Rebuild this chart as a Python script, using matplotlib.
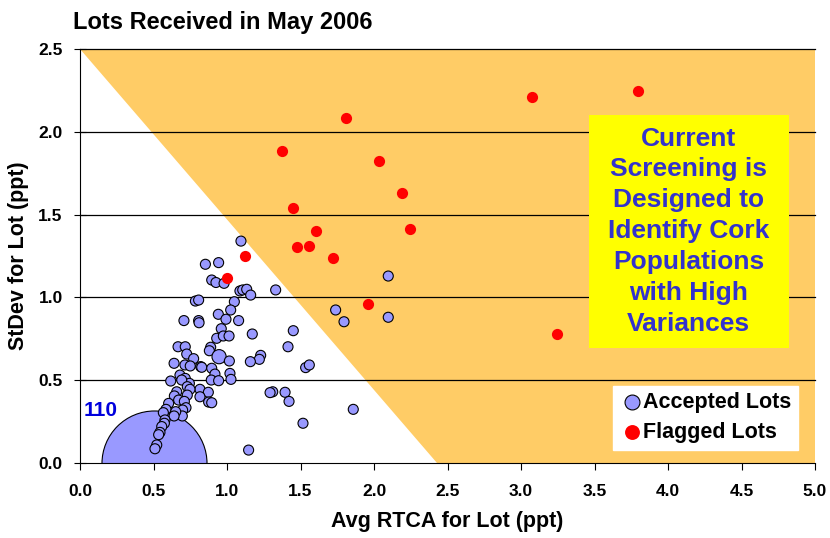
import numpy as np
import matplotlib
matplotlib.use('Agg')
from matplotlib import pyplot as plt
from matplotlib.patches import Rectangle

plt.rcParams['font.family'] = ['Liberation Sans', 'DejaVu Sans']

# accepted lots (avg RTCA, stdev), lots per bubble
acc_x = [1.095, 0.853, 0.943, 0.896, 0.925, 0.98, 1.088, 1.107, 1.134, 1.161,
         1.331, 0.785, 0.807, 1.05, 1.025, 0.941, 0.993, 1.079, 0.707, 0.807,
         0.81, 0.961, 0.93, 0.975, 1.014, 1.172, 0.667, 0.716, 0.889, 0.88,
         0.946, 0.726, 0.773, 0.64, 0.714, 0.75, 1.016, 0.821, 0.828, 0.896,
         1.229, 1.22, 1.159, 0.68, 0.716, 0.744, 0.692, 0.617, 0.918, 0.893,
         0.943, 1.02, 1.027, 0.816, 0.873, 0.816, 0.875, 0.896, 0.73, 0.748,
         0.73, 0.658, 0.642, 0.671, 0.71, 0.721, 0.603, 0.585, 0.567, 0.698,
         0.696, 0.651, 0.64, 0.578, 0.574, 0.556, 0.544, 0.535, 0.522, 0.51,
         1.311, 1.293, 1.147, 1.739, 1.796, 2.097, 2.097, 1.451, 1.415, 1.535,
         1.56, 1.395, 1.422, 1.859, 1.517]
acc_y = [1.34, 1.20, 1.21, 1.105, 1.09, 1.085, 1.039, 1.045, 1.049, 1.014,
         1.045, 0.978, 0.984, 0.974, 0.924, 0.898, 0.868, 0.86, 0.86, 0.86,
         0.847, 0.811, 0.753, 0.767, 0.767, 0.779, 0.702, 0.702, 0.699, 0.678,
         0.642, 0.658, 0.63, 0.602, 0.592, 0.586, 0.616, 0.582, 0.578, 0.572,
         0.65, 0.626, 0.612, 0.531, 0.511, 0.481, 0.501, 0.495, 0.537, 0.501,
         0.497, 0.541, 0.505, 0.445, 0.427, 0.40, 0.368, 0.364, 0.461, 0.445,
         0.41, 0.43, 0.405, 0.38, 0.372, 0.334, 0.36, 0.324, 0.304, 0.32,
         0.284, 0.31, 0.284, 0.26, 0.24, 0.22, 0.185, 0.171, 0.109, 0.086,
         0.43, 0.425, 0.078, 0.924, 0.853, 0.88, 1.129, 0.799, 0.702, 0.576,
         0.592, 0.427, 0.372, 0.324, 0.24]
acc_n = [1] * len(acc_x)
acc_n[30] = 2

# the 110 lots with zero variance
big_x, big_y, big_n = 0.5, 0.0, 110

# flagged lots
flag_x = [1.81, 1.376, 2.034, 2.19, 1.447, 2.243, 1.605, 1.474, 1.56, 1.721,
          1.12, 1.0, 1.961, 3.077, 3.798, 3.243]
flag_y = [2.085, 1.886, 1.826, 1.632, 1.542, 1.413, 1.401, 1.306, 1.312, 1.238,
          1.252, 1.117, 0.96, 2.212, 2.248, 0.777]

note = 'Current\nScreening is\nDesigned to\nIdentify Cork\nPopulations\nwith High\nVariances'

unit = 52  # marker area for one lot

fig = plt.figure(figsize=(8.3, 5.38), dpi=100)
ax = fig.add_axes([80 / 830, 1 - 463 / 538, 735 / 830, 414 / 538])
ax.set_xlim(0, 5)
ax.set_ylim(0, 2.5)

# screening region
ax.fill([0, 5, 5, 2.43], [2.5, 2.5, 0, 0], color='#FFCC66', zorder=0, lw=0)

for yv in [0.5, 1.0, 1.5, 2.0, 2.5]:
    ax.axhline(yv, color='black', lw=0.9, zorder=1, clip_on=False)

ax.scatter([big_x], [big_y], s=[unit * big_n], color='#9999FF',
           edgecolors='black', linewidths=0.8, zorder=2)
ax.scatter(acc_x, acc_y, s=[unit * n for n in acc_n], color='#9999FF',
           edgecolors='black', linewidths=0.8, zorder=3, label='Accepted Lots')
ax.scatter(flag_x, flag_y, s=65, color='#FF0000', linewidths=0,
           zorder=3, label='Flagged Lots')

ax.text(0.14, 0.315, str(big_n), color='#0000DD', fontsize=15,
        fontweight='bold', ha='center', va='center', zorder=4)

# yellow note box
ax.add_patch(Rectangle((3.46, 0.694), 1.36, 1.406, facecolor='#FFFF00',
                       edgecolor='none', zorder=5))
ax.text(4.14, 1.40, note, color='#3333CC', fontsize=19, fontweight='bold',
        ha='center', va='center', linespacing=1.36, zorder=6)

leg = ax.legend(loc='lower right', bbox_to_anchor=(0.983, 0.022), frameon=True,
                fancybox=False, framealpha=1, edgecolor='white',
                prop=dict(weight='bold', size=15.5), handletextpad=0.0,
                borderpad=0.3, labelspacing=0.42, handlelength=1.1,
                borderaxespad=0.2)
leg.set_zorder(7)
for h in leg.legend_handles:
    h.set_sizes([115])

ax.set_xticks(np.arange(0, 5.01, 0.5))
ax.set_yticks(np.arange(0, 2.51, 0.5))
ax.set_xticklabels(['%.1f' % v for v in np.arange(0, 5.01, 0.5)], fontweight='bold', fontsize=12.5)
ax.set_yticklabels(['%.1f' % v for v in np.arange(0, 2.51, 0.5)], fontweight='bold', fontsize=12.5)
ax.tick_params(axis='x', direction='out', length=5, width=0.8, pad=10)
ax.tick_params(axis='y', direction='inout', length=9, width=0.8, pad=8)

ax.spines['top'].set_visible(False)
ax.spines['right'].set_visible(False)

ax.set_xlabel('Avg RTCA for Lot (ppt)', fontweight='bold', fontsize=15.5, labelpad=9)
ax.set_ylabel('StDev for Lot (ppt)', fontweight='bold', fontsize=15.5, labelpad=7)
fig.text(73 / 830, 1 - 23 / 538, 'Lots Received in May 2006', fontweight='bold',
         fontsize=17, va='center', ha='left')

fig.savefig('out.png', dpi=100)
